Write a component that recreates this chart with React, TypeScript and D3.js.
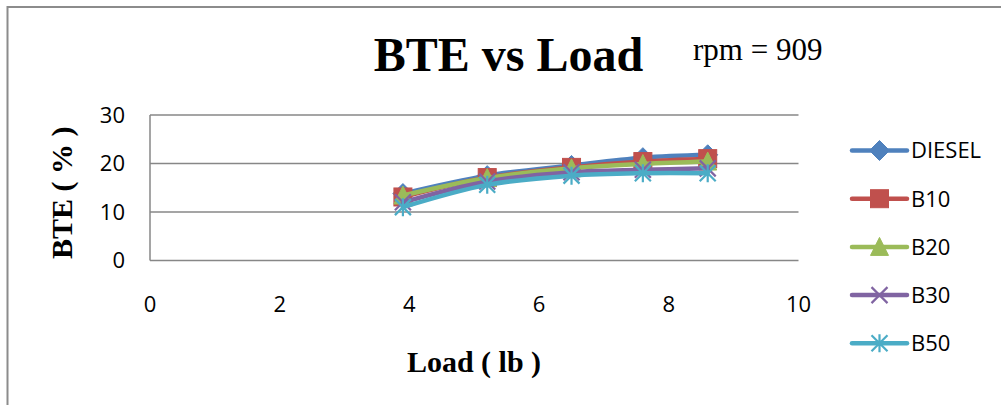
import React from "react";
import * as d3 from "d3";

// Engine load (lb) at each test point
const loads = [3.9, 5.2, 6.5, 7.6, 8.6];

// Brake thermal efficiency (%) for each fuel blend
const diesel = [13.8, 17.5, 19.6, 21.2, 21.8];
const b10 = [13.1, 17.1, 19.2, 20.4, 21.0];
const b20 = [13.4, 17.0, 19.0, 19.9, 20.4];
const b30 = [12.0, 16.3, 18.2, 18.7, 19.0];
const b50 = [11.0, 15.6, 17.5, 18.0, 18.0];

const seriesNames = ["DIESEL", "B10", "B20", "B30", "B50"];
const seriesValues = [diesel, b10, b20, b30, b50];
const seriesColors = ["#4F81BD", "#C0504D", "#9BBB59", "#8064A2", "#4BACC6"];
const markerKinds = ["diamond", "square", "triangle", "x", "star"];

const xTicks = [0, 2, 4, 6, 8, 10];
const yTicks = [0, 10, 20, 30];

const W = 1001;
const H = 405;
const plot = { left: 150, right: 798.5, top: 115, bottom: 260.5 };

const labelFont = "'Open Sans', 'Noto Sans', sans-serif";
const serifFont = "'Liberation Serif', 'Times New Roman', serif";

function Marker({ kind, x, y, color }: { kind: string; x: number; y: number; color: string }) {
  const s = 9;
  switch (kind) {
    case "diamond":
      return (
        <path
          d={`M${x},${y - 10}L${x + 10},${y}L${x},${y + 10}L${x - 10},${y}Z`}
          fill={color}
          stroke={color}
          strokeWidth={1}
        />
      );
    case "square":
      return <rect x={x - s} y={y - s} width={2 * s} height={2 * s} fill={color} stroke={color} strokeWidth={1} />;
    case "triangle":
      return (
        <path
          d={`M${x},${y - 9.5}L${x + 9},${y + 8.5}L${x - 9},${y + 8.5}Z`}
          fill={color}
          stroke={color}
          strokeWidth={1}
        />
      );
    case "x":
      return (
        <path
          d={`M${x - 8},${y - 8}L${x + 8},${y + 8}M${x - 8},${y + 8}L${x + 8},${y - 8}`}
          stroke={color}
          strokeWidth={2.2}
          fill="none"
        />
      );
    default:
      return (
        <path
          d={`M${x - 8},${y - 8}L${x + 8},${y + 8}M${x - 8},${y + 8}L${x + 8},${y - 8}M${x},${y - 9}L${x},${y + 9}`}
          stroke={color}
          strokeWidth={2.2}
          fill="none"
        />
      );
  }
}

export default function App() {
  const x = d3.scaleLinear().domain([0, 10]).range([plot.left, plot.right]);
  const y = d3.scaleLinear().domain([0, 30]).range([plot.bottom, plot.top]);

  const line = d3
    .line<number>()
    .x((_, i) => x(loads[i]))
    .y((v) => y(v))
    .curve(d3.curveCatmullRom.alpha(0.5));

  const legendX = 852;
  const legendY0 = 150.5;
  const legendStep = 48.2;

  return (
    <svg
      width={W}
      height={H}
      style={{ position: "absolute", left: 0, top: 0, background: "#fff" }}
    >
      <rect x={0} y={0} width={W} height={H} fill="#fff" />
      {/* outer chart frame */}
      <rect x={7.5} y={7} width={W + 50} height={H + 50} fill="none" stroke="#8c8c8c" strokeWidth={2} />

      {/* horizontal gridlines */}
      {yTicks.map((t) => (
        <line
          key={t}
          x1={plot.left}
          x2={plot.right}
          y1={y(t)}
          y2={y(t)}
          stroke="#878787"
          strokeWidth={1.5}
        />
      ))}
      {/* value axis line */}
      <line x1={plot.left} x2={plot.left} y1={plot.top} y2={plot.bottom} stroke="#878787" strokeWidth={1.5} />

      {/* y tick labels */}
      {yTicks.map((t) => (
        <text
          key={t}
          x={125}
          y={y(t)}
          dy="0.36em"
          textAnchor="end"
          fontFamily={labelFont}
          fontSize={22}
          fill="#000"
        >
          {t}
        </text>
      ))}
      {/* x tick labels */}
      {xTicks.map((t) => (
        <text
          key={t}
          x={x(t)}
          y={312}
          textAnchor="middle"
          fontFamily={labelFont}
          fontSize={22}
          fill="#000"
        >
          {t}
        </text>
      ))}

      {/* series */}
      {seriesValues.map((vals, si) => (
        <g key={seriesNames[si]}>
          <path
            d={line(vals) || ""}
            fill="none"
            stroke={seriesColors[si]}
            strokeWidth={4.5}
            strokeLinecap="round"
            strokeLinejoin="round"
          />
          {vals.map((v, i) => (
            <Marker key={i} kind={markerKinds[si]} x={x(loads[i])} y={y(v)} color={seriesColors[si]} />
          ))}
        </g>
      ))}

      {/* titles */}
      <text x={508.5} y={71} textAnchor="middle" fontFamily={serifFont} fontWeight="bold" fontSize={48}>
        BTE vs Load
      </text>
      <text x={693} y={60} fontFamily={serifFont} fontSize={31}>
        rpm = 909
      </text>
      <text
        x={474}
        y={372}
        textAnchor="middle"
        fontFamily={serifFont}
        fontWeight="bold"
        fontSize={30}
      >
        Load ( lb )
      </text>
      <text
        transform={`translate(72,${(plot.top + plot.bottom) / 2 + 5}) rotate(-90)`}
        textAnchor="middle"
        fontFamily={serifFont}
        fontWeight="bold"
        fontSize={30}
      >
        BTE ( % )
      </text>

      {/* legend */}
      {seriesNames.map((name, si) => {
        const ly = legendY0 + si * legendStep;
        return (
          <g key={name}>
            <line
              x1={legendX}
              x2={legendX + 55}
              y1={ly}
              y2={ly}
              stroke={seriesColors[si]}
              strokeWidth={4.5}
              strokeLinecap="round"
            />
            <Marker kind={markerKinds[si]} x={legendX + 27.5} y={ly} color={seriesColors[si]} />
            <text x={911} y={ly} dy="0.36em" fontFamily={labelFont} fontSize={22} fill="#000">
              {name}
            </text>
          </g>
        );
      })}
    </svg>
  );
}
